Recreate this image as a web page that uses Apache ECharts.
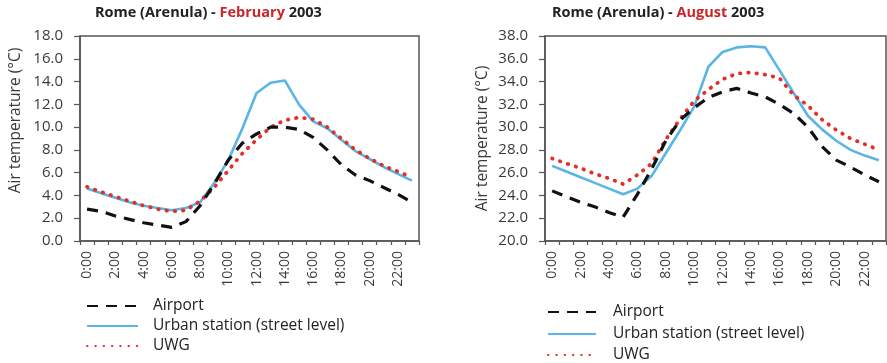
<!DOCTYPE html>
<html>
<head>
<meta charset="utf-8">
<script src="https://cdn.jsdelivr.net/npm/echarts@6/dist/echarts.min.js"></script>
<style>
  html, body { margin: 0; padding: 0; background: #fff; }
  #chart { width: 887px; height: 363px; }
</style>
</head>
<body>
<div id="chart"></div>
<script>
// Hourly categories shared by both panels
const hours = ['0:00', '1:00', '2:00', '3:00', '4:00', '5:00', '6:00', '7:00',
  '8:00', '9:00', '10:00', '11:00', '12:00', '13:00', '14:00', '15:00',
  '16:00', '17:00', '18:00', '19:00', '20:00', '21:00', '22:00', '23:00'];

// February 2003 (°C)
const airportFeb = [2.8, 2.6, 2.2, 1.9, 1.6, 1.4, 1.2, 1.7, 3.1, 5.0, 7.1, 8.6,
  9.4, 10.0, 10.0, 9.8, 9.1, 8.0, 6.7, 5.8, 5.3, 4.7, 4.1, 3.4];
const urbanFeb = [4.6, 4.2, 3.8, 3.4, 3.1, 2.9, 2.7, 2.9, 3.4, 5.1, 7.1, 9.9,
  13.0, 13.9, 14.1, 12.0, 10.5, 9.9, 8.9, 7.9, 7.2, 6.5, 5.9, 5.3];
const uwgFeb = [4.75, 4.3, 3.9, 3.5, 3.1, 2.8, 2.6, 2.7, 3.5, 4.7, 6.2, 7.7,
  8.9, 10.0, 10.6, 10.85, 10.7, 10.0, 9.0, 8.0, 7.25, 6.6, 6.1, 5.6];

// August 2003 (°C)
const airportAug = [24.4, 23.9, 23.4, 23.0, 22.5, 22.1, 24.1, 26.3, 28.8, 30.6, 31.7, 32.6,
  33.1, 33.4, 33.0, 32.65, 32.0, 31.2, 30.0, 28.3, 27.1, 26.5, 25.8, 25.2];
const urbanAug = [26.6, 26.1, 25.6, 25.1, 24.6, 24.1, 24.6, 25.7, 27.7, 29.7, 31.8, 35.3,
  36.6, 37.0, 37.1, 37.0, 35.0, 33.0, 31.0, 29.8, 28.8, 28.0, 27.5, 27.1];
const uwgAug = [27.25, 26.8, 26.4, 25.9, 25.5, 25.0, 25.8, 26.8, 28.9, 30.7, 32.3, 33.3,
  34.2, 34.7, 34.8, 34.6, 34.3, 32.8, 31.9, 30.65, 29.75, 29.0, 28.5, 28.0];

const seriesNames = ['Airport', 'Urban station (street level)', 'UWG'];
const yRangeFeb = [0, 18];
const yRangeAug = [20, 38];

const FONT = 'Open Sans';
const AXIS_COLOR = '#555';
const LABEL_COLOR = '#3a3a3a';

const styles = {
  'Airport': { color: '#111', width: 3.2, type: [11, 8], cap: 'butt' },
  'Urban station (street level)': { color: '#5ab5e4', width: 2.6, type: 'solid', cap: 'butt' },
  'UWG': { color: '#e0302a', width: 3.8, type: [0.5, 7.8], cap: 'round' }
};

function xAxis(gridIndex) {
  return {
    type: 'category', gridIndex, data: hours, boundaryGap: true,
    axisLine: { lineStyle: { color: AXIS_COLOR, width: 1.5 } },
    axisTick: { show: true, interval: 0, length: 4, lineStyle: { color: AXIS_COLOR, width: 1.2 } },
    axisLabel: { interval: 1, rotate: 90, margin: 10, color: LABEL_COLOR,
      fontFamily: FONT, fontSize: 14 },
    splitLine: { show: false }
  };
}

function yAxis(gridIndex, range, nameGap, shift) {
  return {
    type: 'value', gridIndex, min: range[0], max: range[1], interval: 2,
    name: 'Air temperature (°C)', nameLocation: 'middle', nameGap,
    nameTextStyle: { color: LABEL_COLOR, fontFamily: FONT, fontSize: 15.5, padding: [0, 0, 0, shift] },
    axisLine: { show: true, lineStyle: { color: AXIS_COLOR, width: 1.5 } },
    axisTick: { show: true, length: 6, lineStyle: { color: AXIS_COLOR, width: 1.2 } },
    axisLabel: { margin: 17, color: LABEL_COLOR, fontFamily: FONT, fontSize: 15,
      formatter: v => v.toFixed(1) },
    splitLine: { show: false }
  };
}

function line(name, data, idx) {
  const s = styles[name];
  return {
    name, type: 'line', data, xAxisIndex: idx, yAxisIndex: idx,
    symbol: 'none', silent: true,
    lineStyle: { color: s.color, width: s.width, type: s.type, cap: s.cap },
    itemStyle: { color: s.color }
  };
}

function title(left, month) {
  return {
    left, top: 5, padding: 0,
    text: '{a|Rome (Arenula) - }{b|' + month + '}{a| 2003}',
    textStyle: {
      rich: {
        a: { fontFamily: FONT, fontWeight: 'bold', fontSize: 14.5, color: '#222' },
        b: { fontFamily: FONT, fontWeight: 'bold', fontSize: 14.5, color: '#c8262b' }
      }
    }
  };
}

// One legend entry per row so each row sits at its own height
function legendRow(name, left, centerY, padLeft, width) {
  return {
    left, top: centerY - 10, padding: 0, itemWidth: width, itemHeight: 14,
    data: [name], selectedMode: false,
    itemStyle: { opacity: 0 },
    textStyle: { fontFamily: FONT, fontSize: 15.5, color: '#222', padding: [0, 0, 0, padLeft] }
  };
}

const legends = [
  legendRow(seriesNames[0], 86, 308, 10, 51),
  legendRow(seriesNames[1], 86, 328, 10, 51),
  legendRow(seriesNames[2], 86, 348, 10, 51),
  legendRow(seriesNames[0], 547, 314, 12, 48),
  legendRow(seriesNames[1], 547, 336, 12, 48),
  legendRow(seriesNames[2], 547, 357, 12, 48)
];

const chart = echarts.init(document.getElementById('chart'), null, { renderer: 'canvas' });
chart.setOption({
  animation: false,
  backgroundColor: '#fff',
  title: [title(95, 'February'), title(552, 'August')],
  legend: legends,
  grid: [
    { left: 80, top: 36, width: 339, height: 205, show: true, borderColor: AXIS_COLOR, borderWidth: 1.5 },
    { left: 545, top: 36, width: 341, height: 205, show: true, borderColor: AXIS_COLOR, borderWidth: 1.5 }
  ],
  xAxis: [xAxis(0), xAxis(1)],
  yAxis: [yAxis(0, yRangeFeb, 56, 36), yAxis(1, yRangeAug, 54, 0)],
  series: [
    line('Urban station (street level)', urbanFeb, 0),
    line('UWG', uwgFeb, 0),
    line('Airport', airportFeb, 0),
    line('Urban station (street level)', urbanAug, 1),
    line('UWG', uwgAug, 1),
    line('Airport', airportAug, 1)
  ]
});
</script>
</body>
</html>
